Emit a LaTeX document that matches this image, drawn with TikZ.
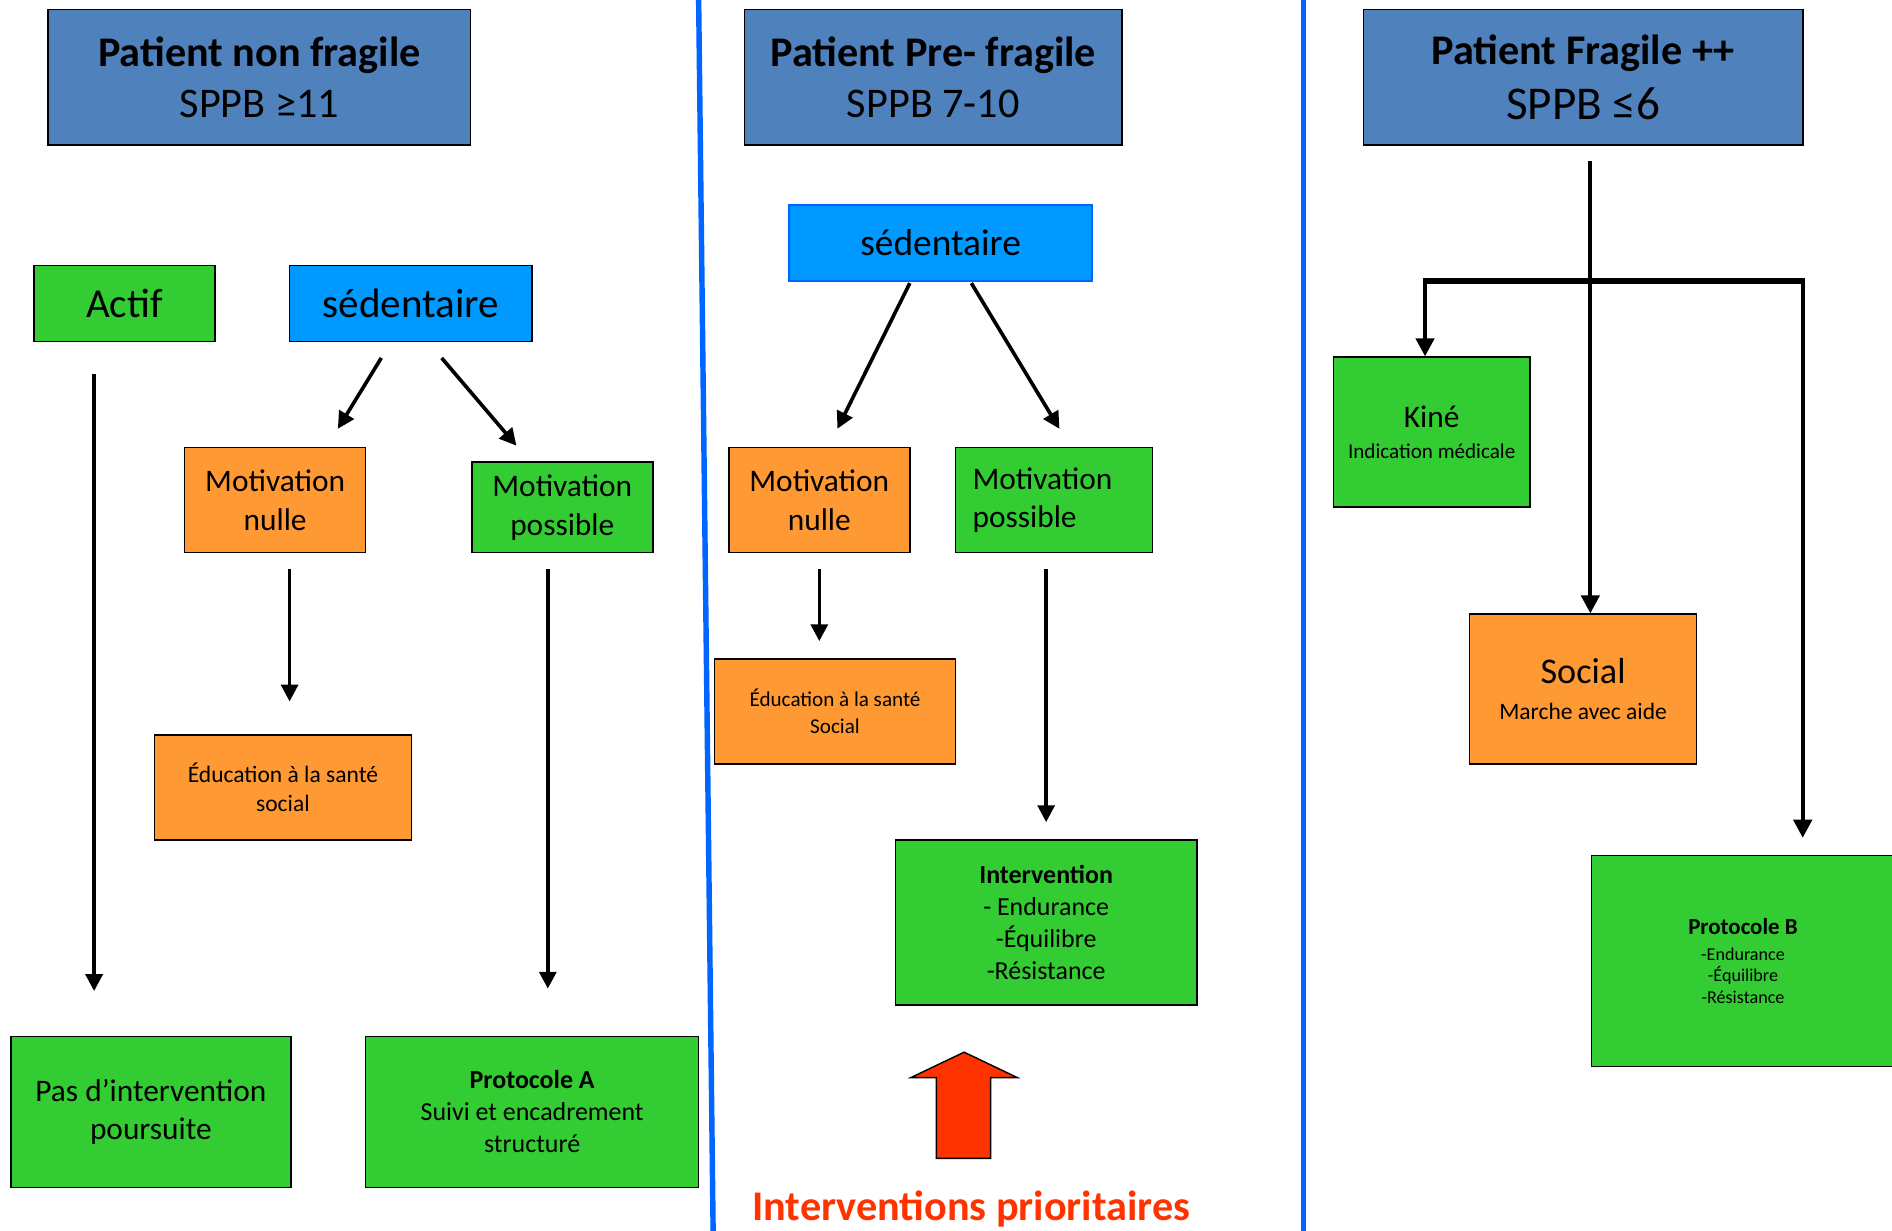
\documentclass[tikz,border=0pt]{standalone}
\usepackage{fontspec}
\setmainfont{Carlito}
\usetikzlibrary{arrows.meta}
\definecolor{hdblue}{HTML}{4F81BD}
\definecolor{okgreen}{HTML}{33CC33}
\definecolor{warnorange}{HTML}{FF9933}
\definecolor{sedblue}{HTML}{0099FF}
\definecolor{sepblue}{HTML}{0066FF}
\definecolor{prioRed}{HTML}{FF3300}

\begin{document}
\begin{tikzpicture}[x=1pt,y=-1pt,
	box/.style={draw=black,line width=1.3pt,inner sep=0pt,align=center},
	hdr/.style={box,fill=hdblue,minimum height=112pt,font=\fontsize{35}{42}\selectfont},
	grn/.style={box,fill=okgreen},
	org/.style={box,fill=warnorange},
	sed/.style={box,fill=sedblue,minimum height=63pt},
	arr/.style={line width=3pt,-{Triangle[width=14pt,length=14pt]}},
	sep/.style={draw=sepblue,line width=4.5pt}]
	\useasboundingbox (0,0) rectangle (1568,1020);
	\fill[white] (0,0) rectangle (1568,1020);

	\draw[sep] (579,0) -- (591,1020);
	\draw[sep] (1080.5,0) -- (1080.5,1020);

	\node[hdr,minimum width=350pt] (hd1) at (215,64) {\textbf{Patient non fragile}\\SPPB ≥11};
	\node[grn,minimum width=150pt,minimum height=63pt,font=\fontsize{34}{40}\selectfont] (actif) at (103,251.5) {Actif};
	\node[sed,minimum width=201pt,font=\fontsize{34}{40}\selectfont] (sed1) at (340.5,251.5) {sédentaire};
	\node[org,minimum width=150pt,minimum height=87pt,font=\fontsize{26}{32}\selectfont] (mn1) at (228,414.5) {Motivation\\nulle};
	\node[grn,minimum width=150pt,minimum height=75pt,font=\fontsize{26}{32}\selectfont] (mp1) at (466,420.5) {Motivation\\possible};
	\node[org,minimum width=213pt,minimum height=87pt,font=\fontsize{19.5}{24}\selectfont] (edu1) at (234.5,652.5) {Éducation à la santé\\social};
	\node[grn,minimum width=232pt,minimum height=125pt,font=\fontsize{26}{32}\selectfont] (pas) at (125,921.5) {Pas d’intervention\\poursuite};
	\node[grn,minimum width=276pt,minimum height=125pt,font=\fontsize{21.5}{26.5}\selectfont] (protA) at (441,921.5) {\textbf{Protocole A}\\Suivi et encadrement\\structuré};

	\draw[arr] ([xshift=-25pt,yshift=-26pt]actif.south) -- ([xshift=-47pt,yshift=37pt]pas.north);
	\draw[arr] ([xshift=-24.5pt,yshift=-13pt]sed1.south) -- ([xshift=52pt,yshift=15pt]mn1.north);
	\draw[arr] ([xshift=25.5pt,yshift=-13pt]sed1.south) -- ([xshift=-38pt,yshift=13pt]mp1.north);
	\draw[arr] ([xshift=12pt,yshift=-13pt]mn1.south) -- ([xshift=5.5pt,yshift=27pt]edu1.north);
	\draw[arr] ([xshift=-12pt,yshift=-13pt]mp1.south) -- ([xshift=13pt,yshift=39pt]protA.north);

	\node[hdr,minimum width=313pt] (hd2) at (773.5,64) {\textbf{Patient Pre- fragile}\\SPPB 7-10};
	\node[sed,draw=sepblue,minimum width=251pt,font=\fontsize{31}{37}\selectfont] (sed2) at (779.5,201.5) {sédentaire};
	\node[org,minimum width=150pt,minimum height=87pt,font=\fontsize{26}{32}\selectfont] (mn2) at (679,414.5) {Motivation\\nulle};
	\node[grn,text width=135pt,inner xsep=14pt,align=left,minimum height=87pt,font=\fontsize{26}{32}\selectfont] (mp2) at (873.5,414.5) {Motivation\\possible};
	\node[org,minimum width=200pt,minimum height=87pt,font=\fontsize{17.5}{22}\selectfont] (edu2) at (692,589.5) {Éducation à la santé\\Social};
	\node[grn,minimum width=250pt,minimum height=137pt,font=\fontsize{21.5}{26.5}\selectfont] (interv) at (867,764.5) {\textbf{Intervention}\\- Endurance\\-Équilibre\\-Résistance};
	\node[font=\fontsize{35}{42}\selectfont\bfseries,text=prioRed,inner sep=0pt] (prio) at (805,1002) {Interventions prioritaires};

	\draw[arr] ([xshift=-25.5pt,yshift=-1pt]sed2.south) -- ([xshift=15pt,yshift=15pt]mn2.north);
	\draw[arr] ([xshift=25.5pt,yshift=-1pt]sed2.south) -- ([xshift=4.5pt,yshift=15pt]mp2.north);
	\draw[arr] ([yshift=-13pt]mn2.south) -- ([xshift=-13pt,yshift=14pt]edu2.north);
	\draw[arr] ([xshift=-6.5pt,yshift=-13pt]mp2.south) -- ([yshift=14pt]interv.north);
	\draw[fill=prioRed,line width=1.2pt,line join=miter] (776,960) -- (776,893) -- (755,893) -- (799,872) -- (843,893) -- (821,893) -- (821,960) -- cycle;

	\node[hdr,minimum width=364pt] (hd3) at (1312,64) {\textbf{Patient Fragile ++}\\[3pt]{\fontsize{39}{46}\selectfont SPPB ≤6}};
	\node[grn,minimum width=163pt,minimum height=124pt,font=\fontsize{17.5}{26}\selectfont] (kine) at (1186.5,358) {{\fontsize{26}{26}\selectfont Kiné}\\Indication médicale};
	\node[org,minimum width=188pt,minimum height=124pt,font=\fontsize{19.5}{30}\selectfont] (social) at (1312,571) {{\fontsize{30}{30}\selectfont Social}\\Marche avec aide};
	\node[grn,minimum width=251pt,minimum height=175pt,font=\fontsize{15}{18}\selectfont] (protB) at (1444.5,796.5) {{\fontsize{19}{18}\selectfont\bfseries Protocole B}\\[3pt]-Endurance\\-Équilibre\\-Résistance};

	\coordinate (barL) at (1181,233);
	\coordinate (barR) at (1494,233);
	\draw[line width=3.5pt,-{Triangle[width=15pt,length=15pt]}] ([xshift=6pt,yshift=-13pt]hd3.south) -- ([xshift=6pt]social.north);
	\draw[line width=5pt] ([xshift=-1.75pt]barL) -- ([xshift=1.75pt]barR);
	\draw[line width=3.5pt,-{Triangle[width=15pt,length=15pt]}] (barL) -- (kine.north -| barL);
	\draw[line width=3.5pt,-{Triangle[width=15pt,length=15pt]},shorten >=14pt] (barR) -- (protB.north -| barR);
\end{tikzpicture}
\end{document}
